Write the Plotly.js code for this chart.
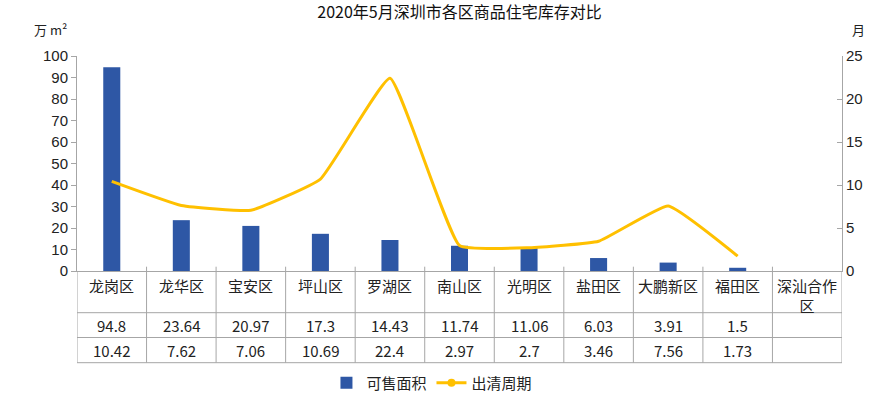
<!DOCTYPE html>
<html>
<head>
<meta charset="utf-8">
<script src="https://cdn.plot.ly/plotly-3.0.1.min.js"></script>
<style>html,body{margin:0;padding:0;background:#fff;}#chart{width:873px;height:394px;}</style>
</head>
<body>
<div id="chart"></div>
<script>
const titleText = "2020年5月深圳市各区商品住宅库存对比";
const categories = ["龙岗区","龙华区","宝安区","坪山区","罗湖区","南山区","光明区","盐田区","大鹏新区","福田区","深汕合作区"];
const saleArea = [94.8, 23.64, 20.97, 17.3, 14.43, 11.74, 11.06, 6.03, 3.91, 1.5, null];
const clearPeriod = [10.42, 7.62, 7.06, 10.69, 22.4, 2.97, 2.7, 3.46, 7.56, 1.73, null];
const seriesNames = ["可售面积", "出清周期"];
const leftUnit = "万 m²";
const rightUnit = "月";

const BAR = "#2E57A5";
const LINE = "#FFC000";
const GRID = "#A6A6A6";
const CJK = "Noto Sans CJK SC";
const LAT = "Liberation Sans, Arial";

// table geometry (paper y units; plot area 215px tall)
const H = 215;
const py = px => -(px - 271) / H;   // pixel row -> paper y
const yRow1Top = py(312.7), yRow2Top = py(337.5), yBottom = py(362.7);
const xLeftEdge = -0.5 - (77.3 - 5) / 69.5;
const xLabelCol = -0.5 - (77.3 - 41) / 69.5;

const traces = [
  {type: "bar", name: seriesNames[0], x: categories, y: saleArea,
   marker: {color: BAR}, yaxis: "y", hoverinfo: "skip"},
  {type: "scatter", mode: "lines", name: seriesNames[1], x: categories, y: clearPeriod,
   line: {color: LINE, width: 3, shape: "spline", smoothing: 0.35}, yaxis: "y2",
   connectgaps: false, showlegend: false, hoverinfo: "skip"},
  {type: "scatter", mode: "lines+markers", name: seriesNames[1], x: [categories[0]], y: [null],
   line: {color: LINE, width: 3}, marker: {color: LINE, size: 8}, yaxis: "y2", showlegend: true}
];

const shapes = [];
const lineStyle = {color: GRID, width: 1};
for (let i = 0; i <= categories.length; i++) {
  const x = i - 0.5;
  let y0 = (i === 0 || i === categories.length) ? 0 : 0.02;
  shapes.push({type: "line", xref: "x", yref: "paper", x0: x, x1: x, y0: y0, y1: yBottom, line: lineStyle});
}
shapes.push({type: "line", xref: "x", yref: "paper", x0: xLeftEdge, x1: xLeftEdge, y0: yRow1Top, y1: yBottom, line: lineStyle});
[yRow1Top, yRow2Top, yBottom].forEach(y => {
  shapes.push({type: "line", xref: "x", yref: "paper", x0: xLeftEdge, x1: categories.length - 0.5, y0: y, y1: y, line: lineStyle});
});

const annotations = [];
const fmt = v => (v === null || v === undefined) ? "" : String(v);
const wrap = s => s.length > 4 ? s.slice(0, 4) + "<br>" + s.slice(4) : s;
categories.forEach((c, i) => {
  annotations.push({xref: "x", yref: "paper", x: i, y: py(273), yanchor: "top", showarrow: false,
    text: wrap(c), font: {family: CJK, size: 15, color: "#222"}});
  annotations.push({xref: "x", yref: "paper", x: i, y: (yRow1Top + yRow2Top) / 2, yanchor: "middle", showarrow: false,
    text: fmt(saleArea[i]), font: {family: CJK, size: 15, color: "#222"}});
  annotations.push({xref: "x", yref: "paper", x: i, y: (yRow2Top + yBottom) / 2, yanchor: "middle", showarrow: false,
    text: fmt(clearPeriod[i]), font: {family: CJK, size: 15, color: "#222"}});
});
annotations.push({xref: "x", yref: "paper", x: xLabelCol, y: (yRow1Top + yRow2Top) / 2, yanchor: "middle", showarrow: false,
  text: seriesNames[0], font: {family: CJK, size: 15, color: "#222"}});
annotations.push({xref: "x", yref: "paper", x: xLabelCol, y: (yRow2Top + yBottom) / 2, yanchor: "middle", showarrow: false,
  text: seriesNames[1], font: {family: CJK, size: 15, color: "#222"}});
annotations.push({xref: "paper", yref: "paper", x: -0.01, y: (271 - 30) / H, xanchor: "right", yanchor: "middle", showarrow: false,
  text: leftUnit, font: {family: CJK, size: 13, color: "#222"}});
annotations.push({xref: "paper", yref: "paper", x: 1.01, y: (271 - 30) / H, xanchor: "left", yanchor: "middle", showarrow: false,
  text: rightUnit, font: {family: CJK, size: 13, color: "#222"}});

const layout = {
  width: 873, height: 394,
  margin: {l: 77, r: 31, t: 56, b: 123, pad: 0, autoexpand: false},
  paper_bgcolor: "#fff", plot_bgcolor: "#fff",
  title: {text: titleText, x: 0.5, xref: "paper", y: 1 - 12 / 394, yref: "container", yanchor: "middle",
          font: {family: CJK, size: 16, color: "#111"}},
  showlegend: true,
  legend: {orientation: "h", x: 0.464, xanchor: "center", y: py(383), yanchor: "middle",
           font: {family: CJK, size: 15, color: "#222"}, bgcolor: "rgba(0,0,0,0)", traceorder: "normal"},
  bargap: 0.755,
  xaxis: {type: "category", range: [-0.5, categories.length - 0.5], showticklabels: false, ticks: "",
          showline: true, linecolor: GRID, linewidth: 1, showgrid: false, zeroline: false, fixedrange: true},
  yaxis: {range: [0, 100], dtick: 10, showgrid: false, zeroline: false, showline: true, linecolor: GRID, linewidth: 1,
          ticks: "outside", ticklen: 5, tickcolor: GRID, tickfont: {family: LAT, size: 15, color: "#222"}},
  yaxis2: {range: [0, 25], dtick: 5, overlaying: "y", side: "right", showgrid: false, zeroline: false, showline: true,
           linecolor: GRID, linewidth: 1, ticks: "inside", ticklen: 5, tickcolor: GRID,
           tickfont: {family: LAT, size: 15, color: "#222"}},
  shapes: shapes,
  annotations: annotations
};

Plotly.newPlot("chart", traces, layout, {staticPlot: true, displayModeBar: false});
</script>
</body>
</html>
